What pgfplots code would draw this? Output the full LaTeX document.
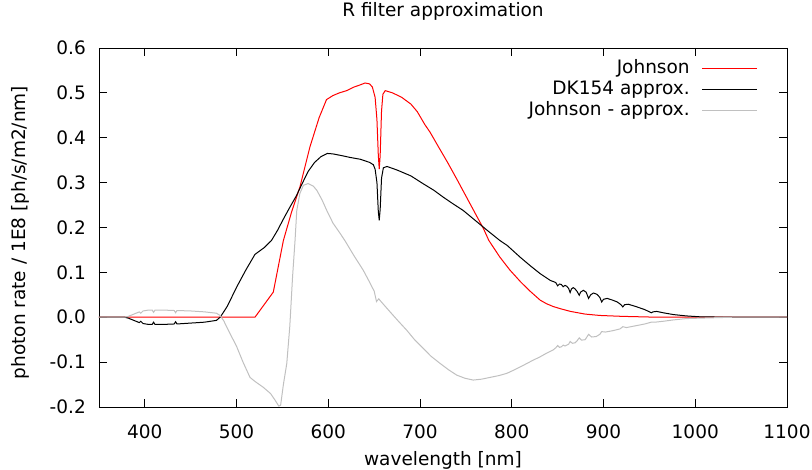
\documentclass[border=0pt]{standalone}
\usepackage{pgfplots}
\pgfplotsset{compat=1.18}
\usepackage{fontspec}
\setmainfont{DejaVu Sans}
\definecolor{jred}{RGB}{255,0,0}
\definecolor{jgray}{RGB}{192,192,192}
\newcommand{\ff}{\fontsize{18.5}{22}\selectfont}
\begin{document}
\begin{tikzpicture}[font=\ff]
\useasboundingbox (0,0) rectangle (812pt,470pt);
\begin{axis}[
  at={(99pt,63pt)}, anchor=south west,
  scale only axis, width=688pt, height=359pt,
  xmin=350, xmax=1100, ymin=-0.2, ymax=0.6,
  xtick={400,500,600,700,800,900,1000,1100},
  ytick={-0.2,-0.1,0,0.1,0.2,0.3,0.4,0.5,0.6},
  /pgf/number format/assume math mode=true,
  xticklabel style={/pgf/number format/1000 sep={}, anchor=center, yshift=-25pt, inner sep=0pt},
  yticklabel style={/pgf/number format/.cd, fixed, fixed zerofill, precision=1, /tikz/.cd, anchor=east, xshift=-13pt, inner sep=0pt},
  tick label style={font=\ff},
  tick align=inside, major tick length=8pt,
  tick style={black, line width=0.8pt},
  axis line style={black, line width=0.9pt},
  title={R filter approximation},
  title style={at={(rel axis cs:0.5,1)}, anchor=center, yshift=31pt, inner sep=0pt, font=\ff},
  xlabel={wavelength [nm]},
  xlabel style={at={(rel axis cs:0.5,0)}, anchor=center, yshift=-53pt, inner sep=0pt, font=\ff},
  ylabel={photon rate / 1E8 [ph/s/m2/nm]},
  ylabel style={at={(rel axis cs:-0.1148,0.486)}, anchor=center, inner sep=0pt, font=\ff},
  legend cell align=right,
  legend plot pos=right,
  legend image code/.code={\draw[#1] (0pt,0pt) -- (55pt,0pt);},
  legend style={draw=none, fill=none, at={(rel axis cs:0.962,0.972)}, anchor=north east,
    row sep=4pt, column sep=12pt, font=\ff,
    nodes={inner sep=0pt, text height=13pt, text depth=4pt}},
  clip=true,
]
% Johnson
\addplot[jred, line width=1pt] coordinates {
(350,0) (520,0) (540,0.056) (551,0.171) (560,0.235) (569,0.29) (580,0.38) (590,0.445)
(598,0.485) (605,0.494) (612,0.5) (620,0.505) (628,0.513) (635,0.518) (640,0.522)
(645,0.52) (648,0.513) (651,0.49) (653,0.44) (654.5,0.36) (655.5,0.33) (656.5,0.36)
(658,0.46) (659.5,0.497) (662,0.505) (670,0.5) (680,0.49) (690,0.475) (697,0.458)
(705,0.43) (711,0.412) (720,0.38) (730,0.345) (740,0.308) (750,0.27) (760,0.232)
(769,0.198) (775,0.171) (787,0.134) (798,0.105) (810,0.078) (820,0.058) (831,0.038)
(838,0.03) (845,0.024) (853,0.019) (864,0.013) (880,0.007) (896,0.004) (920,0.002)
(950,0.0005) (980,0) (1100,0)
};
\addlegendentry{Johnson}
% DK154 approx
\addplot[black, line width=1pt] coordinates {
(350,0) (378,0) (382,-0.002) (388,-0.007) (394,-0.012) (395.5,-0.009) (398,-0.014)
(404,-0.016) (408,-0.016) (409.5,-0.011) (411,-0.016) (420,-0.016) (432,-0.015)
(433.5,-0.010) (435,-0.015) (450,-0.013) (465,-0.011) (478,-0.007) (482,0.0)
(485,0.009) (490,0.025) (500,0.067) (510,0.105) (520,0.14) (530,0.155) (538,0.171)
(545,0.195) (550,0.215) (558,0.245) (565,0.27) (572,0.3) (578,0.325) (585,0.345)
(592,0.358) (599,0.365) (605,0.364) (615,0.36) (624,0.356) (635,0.352) (645,0.345)
(649,0.34) (651,0.33) (653,0.3) (654.5,0.235) (655.5,0.216) (656.5,0.24) (658,0.31)
(660,0.333) (664,0.336) (675,0.328) (690,0.315) (703,0.298) (715,0.283) (725,0.268)
(735,0.254) (747,0.238) (760,0.216) (773,0.194) (787,0.171) (795,0.16) (809,0.134)
(820,0.115) (831,0.097) (842,0.082) (846,0.079) (848,0.077) (850,0.070) (852,0.074)
(854,0.073) (856,0.068) (858,0.071) (860,0.069) (862,0.064) (863.6,0.055) (865,0.063)
(867,0.066) (869,0.063) (871,0.058) (873.5,0.049) (875,0.056) (878,0.060) (881,0.056)
(883.7,0.042) (886,0.050) (889,0.054) (893,0.051) (896,0.044) (898,0.034) (900,0.040)
(904,0.042) (910,0.038) (915,0.034) (919,0.028) (921,0.023) (923,0.028) (927,0.029)
(935,0.024) (945,0.017) (952,0.010) (954,0.012) (958,0.013) (965,0.010) (976,0.006)
(990,0.003) (1005,0.001) (1040,0) (1100,0)
};
\addlegendentry{DK154 approx.}
% Johnson - approx
\addplot[jgray, line width=1pt] coordinates {
(350,0) (378,0) (382,0.002) (388,0.007) (394,0.012) (395.5,0.009) (398,0.014)
(404,0.016) (408,0.016) (409.5,0.011) (411,0.016) (420,0.016) (432,0.015)
(433.5,0.010) (435,0.015) (450,0.014) (465,0.012) (478,0.009) (482,0.004)
(486,-0.008) (490,-0.025) (500,-0.065) (507,-0.1) (514.6,-0.134) (520,-0.143)
(529,-0.156) (537,-0.17) (542,-0.185) (546,-0.198) (548,-0.196) (551,-0.15)
(554.7,-0.103) (558,-0.02) (561,0.09) (563.7,0.171) (565.6,0.238) (569,0.276)
(572.8,0.294) (578,0.298) (583.7,0.292) (587.4,0.283) (593,0.262) (598.3,0.238)
(605,0.21) (612.8,0.187) (618,0.171) (628,0.137) (638,0.105) (645,0.078)
(650,0.058) (652.5,0.035) (655,0.041) (657,0.036) (667.3,0.012) (676,-0.008)
(685.5,-0.029) (694,-0.05) (703.7,-0.07) (712,-0.087) (721.9,-0.103) (731,-0.117)
(740,-0.129) (749,-0.136) (758,-0.140) (767,-0.138) (776.4,-0.134) (786,-0.13)
(794.6,-0.125) (803,-0.117) (812.7,-0.107) (822,-0.097) (831,-0.088) (838,-0.08)
(845,-0.073) (848,-0.068) (850,-0.063) (852,-0.067) (854,-0.066) (856,-0.062)
(858,-0.064) (862,-0.060) (863.6,-0.054) (866,-0.058) (869,-0.057) (871,-0.053)
(873.5,-0.046) (876,-0.051) (880,-0.050) (883.7,-0.038) (887,-0.044) (892,-0.043)
(896,-0.038) (898,-0.032) (902,-0.033) (910,-0.030) (918,-0.026) (921,-0.021)
(925,-0.023) (935,-0.019) (945,-0.015) (952,-0.011) (956,-0.011) (965,-0.009)
(976,-0.006) (990,-0.003) (1005,-0.002) (1040,0) (1100,0)
};
\addlegendentry{Johnson - approx.}
\end{axis}
\end{tikzpicture}
\end{document}
